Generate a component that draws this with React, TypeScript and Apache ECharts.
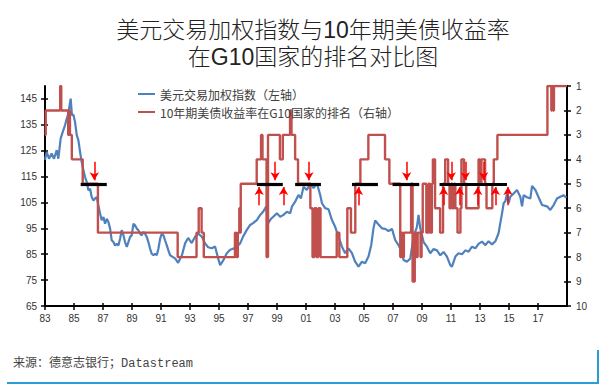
import React, { useEffect, useRef } from 'react';
import * as echarts from 'echarts';

const TITLE_LINES = ['美元交易加权指数与10年期美债收益率', '在G10国家的排名对比图'];
const SOURCE_TEXT = '来源：德意志银行；Datastream';
const SERIES_NAMES = ['美元交易加权指数（左轴）', '10年期美债收益率在G10国家的排名（右轴）'];

const X_TICKS = [1983, 1985, 1987, 1989, 1991, 1993, 1995, 1997, 1999, 2001, 2003, 2005, 2007, 2009, 2011, 2013, 2015, 2017];
const LEFT_TICKS = [65, 75, 85, 95, 105, 115, 125, 135, 145];
const RANK_TICKS = [1, 2, 3, 4, 5, 6, 7, 8, 9, 10];

// USD trade-weighted index [year, value]
const USD_INDEX: [number, number][] = [
  [1983.0, 121.5], [1983.12, 124.5], [1983.28, 121.9], [1983.46, 123.9], [1983.62, 121.9], [1983.81, 125.2],
  [1983.92, 121.9], [1984.08, 129.7], [1984.22, 132.2], [1984.38, 134.8], [1984.5, 137.4], [1984.61, 139.3],
  [1984.68, 141.9], [1984.77, 145.1], [1984.86, 138.7], [1984.96, 138.9], [1985.07, 136.1], [1985.19, 131.0],
  [1985.3, 129.1], [1985.42, 124.5], [1985.53, 120.6], [1985.65, 117.4], [1985.76, 114.9], [1985.88, 112.9],
  [1985.99, 109.7], [1986.11, 110.3], [1986.22, 107.1], [1986.34, 105.8], [1986.45, 106.5], [1986.57, 107.1],
  [1986.68, 103.9], [1986.8, 100.7], [1986.91, 98.1], [1987.03, 99.4], [1987.14, 96.8], [1987.26, 98.7],
  [1987.37, 97.5], [1987.49, 94.9], [1987.6, 90.4], [1987.72, 89.7], [1987.83, 88.4], [1987.95, 89.0],
  [1988.06, 88.4], [1988.18, 91.0], [1988.29, 94.3], [1988.41, 92.3], [1988.52, 89.7], [1988.64, 87.8],
  [1988.75, 89.7], [1988.87, 91.7], [1988.98, 92.3], [1989.1, 96.8], [1989.21, 96.2], [1989.33, 94.9],
  [1989.44, 94.3], [1989.56, 92.9], [1989.67, 92.3], [1989.79, 93.6], [1989.9, 92.9], [1990.02, 91.7],
  [1990.13, 89.7], [1990.25, 87.1], [1990.36, 85.2], [1990.48, 84.6], [1990.59, 85.2], [1990.71, 84.6],
  [1990.82, 87.1], [1990.94, 91.0], [1991.05, 92.9], [1991.17, 92.3], [1991.28, 90.4], [1991.4, 88.4],
  [1991.51, 86.5], [1991.63, 84.6], [1991.8, 84.0], [1991.97, 83.4], [1992.18, 81.7], [1992.45, 84.7],
  [1992.66, 89.2], [1992.87, 91.3], [1993.12, 89.3], [1993.35, 91.8], [1993.58, 92.9], [1993.81, 91.8],
  [1994.04, 89.2], [1994.25, 87.7], [1994.5, 87.3], [1994.73, 88.0], [1994.94, 83.4], [1995.08, 80.8],
  [1995.28, 82.5], [1995.54, 85.4], [1995.77, 86.7], [1995.97, 87.1], [1996.23, 88.0], [1996.46, 89.2],
  [1996.66, 91.8], [1996.92, 94.4], [1997.15, 96.3], [1997.35, 97.0], [1997.61, 98.2], [1997.84, 100.2],
  [1998.04, 101.4], [1998.25, 103.4], [1998.39, 97.0], [1998.56, 98.5], [1998.74, 99.5], [1998.99, 100.8],
  [1999.22, 99.5], [1999.45, 100.2], [1999.68, 101.4], [1999.91, 100.8], [2000.03, 103.4], [2000.25, 105.3],
  [2000.48, 107.9], [2000.65, 106.6], [2000.83, 111.1], [2001.06, 109.8], [2001.29, 112.4], [2001.52, 110.5],
  [2001.75, 112.4], [2001.98, 107.9], [2002.1, 104.7], [2002.32, 102.8], [2002.55, 102.4], [2002.79, 98.2],
  [2003.01, 95.6], [2003.24, 91.8], [2003.48, 87.9], [2003.7, 85.4], [2003.93, 87.3], [2004.17, 85.4],
  [2004.39, 82.1], [2004.62, 80.2], [2004.86, 82.1], [2005.08, 81.5], [2005.31, 84.1], [2005.5, 88.6],
  [2005.65, 94.9], [2005.77, 98.0], [2006.0, 96.5], [2006.24, 95.0], [2006.46, 94.8], [2006.69, 94.0],
  [2006.93, 94.8], [2007.15, 90.5], [2007.38, 88.5], [2007.62, 86.0], [2007.73, 82.8], [2007.96, 82.1],
  [2008.19, 83.3], [2008.42, 91.8], [2008.65, 95.6], [2008.76, 100.2], [2008.88, 95.0], [2009.11, 89.7],
  [2009.34, 87.9], [2009.57, 85.4], [2009.8, 87.0], [2010.03, 86.5], [2010.26, 84.6], [2010.49, 85.9],
  [2010.72, 84.1], [2010.95, 80.8], [2011.07, 80.2], [2011.3, 84.1], [2011.52, 85.4], [2011.76, 85.0],
  [2011.99, 86.5], [2012.21, 86.0], [2012.45, 87.9], [2012.68, 87.3], [2012.9, 89.0], [2013.14, 89.9],
  [2013.37, 88.5], [2013.59, 90.0], [2013.83, 88.8], [2014.06, 90.0], [2014.28, 93.1], [2014.4, 97.0],
  [2014.52, 100.8], [2014.63, 104.7], [2014.75, 105.5], [2014.86, 108.5], [2014.97, 104.7], [2015.09, 107.2],
  [2015.32, 108.5], [2015.55, 109.8], [2015.78, 107.2], [2015.9, 103.5], [2016.01, 107.8], [2016.24, 107.0],
  [2016.47, 106.5], [2016.59, 111.4], [2016.82, 109.8], [2017.04, 107.0], [2017.28, 104.0], [2017.62, 103.5],
  [2017.85, 102.1], [2018.08, 104.0], [2018.31, 106.5], [2018.54, 107.2], [2018.77, 107.8], [2018.96, 106.8],
];

// 10y UST yield rank among G10 [year from which the rank holds, rank]
const UST_RANK: [number, number][] = [
  [1983.0, 3], [1983.05, 2], [1984.05, 1], [1984.12, 2], [1984.6, 3], [1984.66, 2], [1984.72, 3], [1984.85, 4],
  [1985.6, 5], [1986.65, 7], [1992.15, 8], [1993.45, 7], [1993.6, 6], [1993.8, 7], [1993.95, 8],
  [1996.1, 7], [1996.18, 8], [1996.3, 7], [1996.4, 6], [1996.45, 7], [1996.5, 5], [1997.6, 4], [1997.9, 3],
  [1998.0, 4], [1998.28, 8], [1998.38, 3], [1999.2, 4], [1999.4, 3], [1999.9, 2], [2000.0, 3], [2000.25, 4],
  [2000.45, 5], [2001.3, 6], [2001.45, 8], [2001.58, 6], [2001.72, 8], [2001.85, 6], [2002.0, 8],
  [2003.12, 7], [2003.3, 8], [2003.85, 6], [2004.1, 7], [2004.4, 5], [2004.75, 4], [2005.3, 3],
  [2006.45, 4], [2006.75, 5], [2007.5, 8], [2007.6, 7], [2007.66, 8], [2007.75, 7], [2008.25, 5], [2008.35, 9],
  [2008.5, 7], [2008.62, 8], [2008.7, 7], [2008.9, 8], [2008.97, 7], [2009.05, 5], [2009.3, 7], [2009.45, 5],
  [2009.55, 7], [2009.68, 5], [2009.75, 4], [2009.9, 6], [2010.25, 7], [2010.45, 5], [2010.6, 4], [2010.8, 5],
  [2010.9, 6], [2011.0, 5], [2011.1, 6], [2011.2, 5], [2011.3, 6], [2011.45, 7], [2011.65, 6], [2011.72, 4],
  [2011.9, 5], [2012.05, 6], [2012.9, 4], [2013.0, 5], [2013.1, 4], [2013.35, 5], [2013.45, 6], [2013.85, 5],
  [2013.95, 4], [2014.2, 3], [2017.65, 1], [2017.92, 2], [2017.97, 1], [2018.05, 2], [2018.1, 1], [2019.0, 1],
];

// black bars at rank 5 [start year, end year]
const BAR_SPANS: [number, number][] = [
  [1985.46, 1987.26], [1997.61, 1999.4], [2000.25, 2002.03], [2004.17, 2005.96], [2006.97, 2008.81], [2010.21, 2014.86],
];
const BAR_RANK = 5;
const DOWN_ARROWS = [1986.4, 1998.87, 2001.2, 2007.94, 2011.02, 2011.99, 2013.25];
const UP_ARROWS = [1997.77, 1999.45, 2004.62, 2010.49, 2011.59, 2012.84, 2014.06, 2014.93];

const BLUE = '#4f81bd';
const RED = '#c0504d';
const LABEL_FONT = '"Liberation Sans", Arial, sans-serif';
const CJK_FONT = '"Noto Sans CJK SC", sans-serif';
const TITLE_FONT = '"Liberation Sans", "Noto Sans CJK SC", sans-serif';

export default function App() {
  const ref = useRef<HTMLDivElement>(null);
  useEffect(() => {
    if (!ref.current) return;
    const chart = echarts.init(ref.current, null, { renderer: 'svg' });
    const labelBase = { color: '#333', fontSize: 10, fontFamily: LABEL_FONT };
    const tickStyle = { color: '#000', width: 1.5 };

    const markData: any[] = [];
    BAR_SPANS.forEach(([a, b]) => {
      markData.push([
        { coord: [a, BAR_RANK], symbol: 'none', lineStyle: { color: '#000', width: 3.2, type: 'solid' } },
        { coord: [b, BAR_RANK], symbol: 'none' },
      ]);
    });
    DOWN_ARROWS.forEach((x) => {
      markData.push([
        { coord: [x, 4.1], symbol: 'none', lineStyle: { color: '#ff0000', width: 1.5, type: 'solid' } },
        { coord: [x, 4.86], symbol: 'arrow', symbolSize: [7, 8] },
      ]);
    });
    UP_ARROWS.forEach((x) => {
      markData.push([
        { coord: [x, 5.88], symbol: 'none', lineStyle: { color: '#ff0000', width: 1.5, type: 'solid' } },
        { coord: [x, 5.13], symbol: 'arrow', symbolSize: [7, 8] },
      ]);
    });

    chart.setOption({
      animation: false,
      backgroundColor: '#fff',
      grid: { left: 45, right: 33, top: 86, bottom: 80, containLabel: false },
      legend: {
        data: SERIES_NAMES,
        orient: 'vertical',
        left: 137,
        top: 88,
        padding: 0,
        itemWidth: 17,
        itemHeight: 14,
        itemGap: 6,
        itemStyle: { opacity: 0 },
        textStyle: { fontSize: 12, color: '#404040', fontFamily: CJK_FONT },
      },
      xAxis: [
        {
          type: 'value', min: 1983, max: 2019, position: 'bottom', splitLine: { show: false },
          axisLine: { onZero: false, lineStyle: { color: '#000', width: 2 } },
          axisTick: { show: true, inside: false, length: 4, lineStyle: tickStyle, customValues: X_TICKS },
          axisLabel: {
            ...labelBase, margin: 7, customValues: X_TICKS,
            formatter: (v: number) => String(v % 100).padStart(2, '0'),
          },
        },
        {
          type: 'value', min: 1983, max: 2019, position: 'bottom', splitLine: { show: false },
          axisLine: { show: false, onZero: false },
          axisTick: { show: true, inside: true, length: 3, lineStyle: tickStyle, customValues: X_TICKS },
          axisLabel: { show: false },
        },
      ],
      yAxis: [
        {
          type: 'value', min: 65, max: 150, position: 'left', splitLine: { show: false },
          axisLine: { show: true, onZero: false, lineStyle: { color: '#000', width: 2 } },
          axisTick: { show: true, inside: false, length: 4, lineStyle: tickStyle, customValues: LEFT_TICKS },
          axisLabel: { ...labelBase, margin: 8, customValues: LEFT_TICKS },
        },
        {
          type: 'value', min: 1, max: 10, inverse: true, position: 'right', splitLine: { show: false },
          axisLine: { show: true, onZero: false, lineStyle: { color: '#000', width: 2 } },
          axisTick: { show: true, inside: false, length: 4, lineStyle: tickStyle, customValues: RANK_TICKS },
          axisLabel: { ...labelBase, margin: 9, customValues: RANK_TICKS },
        },
        {
          type: 'value', min: 65, max: 150, position: 'left', splitLine: { show: false },
          axisLine: { show: false, onZero: false },
          axisTick: { show: true, inside: true, length: 3, lineStyle: tickStyle, customValues: LEFT_TICKS },
          axisLabel: { show: false },
        },
        {
          type: 'value', min: 1, max: 10, inverse: true, position: 'right', splitLine: { show: false },
          axisLine: { show: false, onZero: false },
          axisTick: { show: true, inside: true, length: 3, lineStyle: tickStyle, customValues: RANK_TICKS },
          axisLabel: { show: false },
        },
      ],
      series: [
        {
          name: SERIES_NAMES[0], type: 'line', xAxisIndex: 0, yAxisIndex: 0, data: USD_INDEX,
          symbol: 'none', lineStyle: { color: BLUE, width: 2.2 }, itemStyle: { color: BLUE }, z: 2,
        },
        {
          name: SERIES_NAMES[1], type: 'line', xAxisIndex: 0, yAxisIndex: 1, data: UST_RANK, step: 'end',
          symbol: 'none', lineStyle: { color: RED, width: 2.4 }, itemStyle: { color: RED }, z: 3,
          markLine: {
            silent: true, symbol: ['none', 'none'], label: { show: false }, emphasis: { disabled: true },
            data: markData,
          },
        },
      ],
      graphic: [
        {
          type: 'text', x: 313, y: 30, silent: true,
          style: {
            text: TITLE_LINES[0], fill: '#222', fontFamily: TITLE_FONT, fontSize: 23, fontWeight: 300,
            align: 'center', verticalAlign: 'middle',
          },
        },
        {
          type: 'text', x: 313, y: 57, silent: true,
          style: {
            text: TITLE_LINES[1], fill: '#222', fontFamily: TITLE_FONT, fontSize: 23, fontWeight: 300,
            align: 'center', verticalAlign: 'middle',
          },
        },
        {
          type: 'text', x: 13, y: 364, silent: true,
          style: {
            text: SOURCE_TEXT, fill: '#444', font: `12px "Liberation Mono", "Noto Sans CJK SC", monospace`,
            textAlign: 'left', textVerticalAlign: 'middle',
          },
        },
        {
          type: 'polyline', silent: true,
          shape: { points: [[7, 383], [598, 383], [598, 350]] },
          style: { stroke: '#2a9fd6', lineWidth: 2, fill: 'none' },
        },
      ],
    });
    return () => chart.dispose();
  }, []);
  return <div ref={ref} style={{ position: 'absolute', left: 0, top: 0, width: 600, height: 386 }} />;
}
